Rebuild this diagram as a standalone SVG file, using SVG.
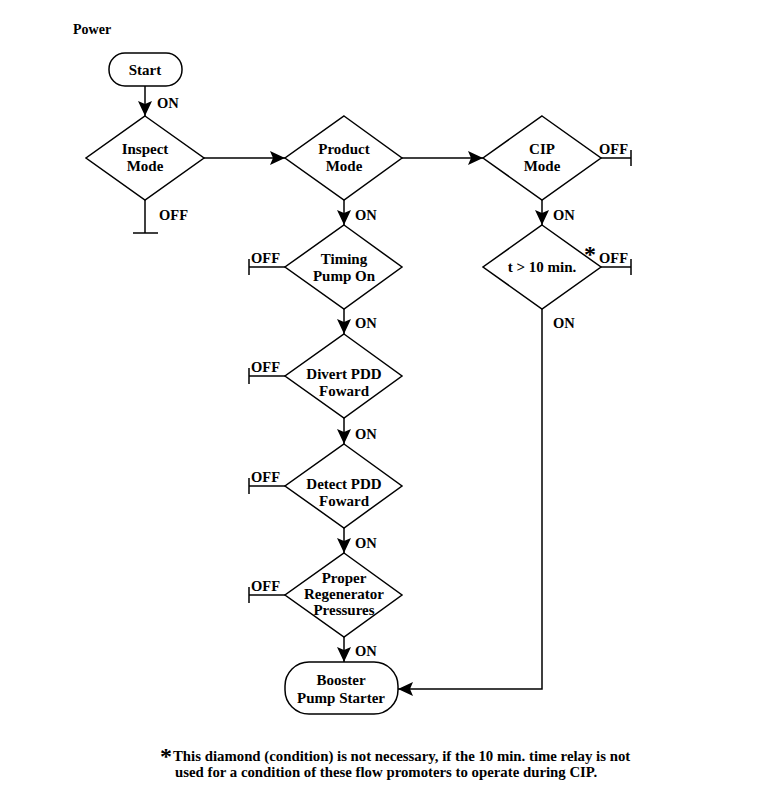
<svg xmlns="http://www.w3.org/2000/svg" width="760" height="791" viewBox="0 0 760 791">
<defs>
<style>
.s{fill:#fff;stroke:#000;stroke-width:1.5}
.l{fill:none;stroke:#000;stroke-width:1.5}
text{font-family:"Liberation Serif","Times New Roman",serif;font-weight:bold;fill:#000}
.n{font-size:15px;text-anchor:middle}
.lb{font-size:14.5px}
.fn{font-size:14.8px}
.pw{font-size:14px}
.ast{font-size:24px}
</style>
<marker id="ah" markerUnits="userSpaceOnUse" markerWidth="16" markerHeight="14" viewBox="0 0 16 14" refX="15" refY="7" orient="auto">
<path d="M0,0 L15,7 L0,14 L3,7 Z" fill="#000"/>
</marker>
</defs>
<rect width="760" height="791" fill="#fff"/>
<text x="73" y="34" class="pw">Power</text>

<g id="connectors">
<line class="l" x1="145" y1="86" x2="145" y2="116" marker-end="url(#ah)"/>
<polyline class="l" points="145,200 145,233"/>
<line class="l" x1="133" y1="233" x2="158" y2="233"/>
<line class="l" x1="204" y1="158" x2="285" y2="158" marker-end="url(#ah)"/>
<line class="l" x1="402" y1="158" x2="483" y2="158" marker-end="url(#ah)"/>
<line class="l" x1="601" y1="158" x2="631" y2="158"/>
<line class="l" x1="631" y1="150" x2="631" y2="166"/>
<line class="l" x1="344" y1="200" x2="344" y2="225" marker-end="url(#ah)"/>
<line class="l" x1="542" y1="200" x2="542" y2="225" marker-end="url(#ah)"/>
<line class="l" x1="601" y1="267" x2="631" y2="267"/>
<line class="l" x1="631" y1="259" x2="631" y2="275"/>
<polyline class="l" points="542,309 542,689 398,689" marker-end="url(#ah)"/>
<line class="l" x1="344" y1="309" x2="344" y2="334" marker-end="url(#ah)"/>
<line class="l" x1="344" y1="418" x2="344" y2="444" marker-end="url(#ah)"/>
<line class="l" x1="344" y1="528" x2="344" y2="553" marker-end="url(#ah)"/>
<line class="l" x1="344" y1="637" x2="344" y2="662" marker-end="url(#ah)"/>
<line class="l" x1="285" y1="267" x2="249" y2="267"/>
<line class="l" x1="249" y1="259" x2="249" y2="275"/>
<line class="l" x1="285" y1="376" x2="249" y2="376"/>
<line class="l" x1="249" y1="368" x2="249" y2="384"/>
<line class="l" x1="285" y1="486" x2="249" y2="486"/>
<line class="l" x1="249" y1="478" x2="249" y2="494"/>
<line class="l" x1="285" y1="595" x2="249" y2="595"/>
<line class="l" x1="249" y1="587" x2="249" y2="603"/>
<text x="157" y="108" class="lb">ON</text>
<text x="159" y="220" class="lb">OFF</text>
<text x="355" y="220" class="lb">ON</text>
<text x="553" y="220" class="lb">ON</text>
<text x="599" y="154" class="lb">OFF</text>
<text x="599" y="263" class="lb">OFF</text>
<text x="584" y="262" class="ast">*</text>
<text x="553" y="328" class="lb">ON</text>
<text x="355" y="328" class="lb">ON</text>
<text x="355" y="439" class="lb">ON</text>
<text x="355" y="548" class="lb">ON</text>
<text x="355" y="656" class="lb">ON</text>
<text x="251" y="263" class="lb">OFF</text>
<text x="251" y="372" class="lb">OFF</text>
<text x="251" y="482" class="lb">OFF</text>
<text x="251" y="591" class="lb">OFF</text>
</g>

<g id="start">
<rect class="s" x="109" y="53" width="73" height="33" rx="16"/>
<text x="145" y="75" class="n">Start</text>
</g>
<g id="inspect">
<polygon class="s" points="145,116 204,158 145,200 86,158"/>
<text x="145" y="154" class="n">Inspect</text>
<text x="145" y="171" class="n">Mode</text>
</g>
<g id="product">
<polygon class="s" points="344,116 402,158 344,200 285,158"/>
<text x="344" y="154" class="n">Product</text>
<text x="344" y="171" class="n">Mode</text>
</g>
<g id="cip">
<polygon class="s" points="542,116 601,158 542,200 483,158"/>
<text x="542" y="154" class="n">CIP</text>
<text x="542" y="171" class="n">Mode</text>
</g>
<g id="timing">
<polygon class="s" points="344,225 402,267 344,309 285,267"/>
<text x="344" y="264" class="n">Timing</text>
<text x="344" y="281" class="n">Pump On</text>
</g>
<g id="t10">
<polygon class="s" points="542,225 601,267 542,309 483,267"/>
<text x="542" y="272" class="n">t &gt; 10 min.</text>
</g>
<g id="divert">
<polygon class="s" points="344,334 402,376 344,418 285,376"/>
<text x="344" y="379" class="n">Divert PDD</text>
<text x="344" y="396" class="n">Foward</text>
</g>
<g id="detect">
<polygon class="s" points="344,444 402,486 344,528 285,486"/>
<text x="344" y="489" class="n">Detect PDD</text>
<text x="344" y="506" class="n">Foward</text>
</g>
<g id="proper">
<polygon class="s" points="344,553 402,595 344,637 285,595"/>
<text x="344" y="583" class="n">Proper</text>
<text x="344" y="599" class="n">Regenerator</text>
<text x="344" y="615" class="n">Pressures</text>
</g>
<g id="booster">
<rect class="s" x="285" y="662" width="113" height="52" rx="24"/>
<text x="341" y="685" class="n">Booster</text>
<text x="341" y="703" class="n">Pump Starter</text>
</g>

<text x="160" y="764" class="ast">*</text>
<text x="173" y="761" class="fn">This diamond (condition) is not necessary, if the 10 min. time relay is not</text>
<text x="175" y="777" class="fn">used for a condition of these flow promoters to operate during CIP.</text>
</svg>
